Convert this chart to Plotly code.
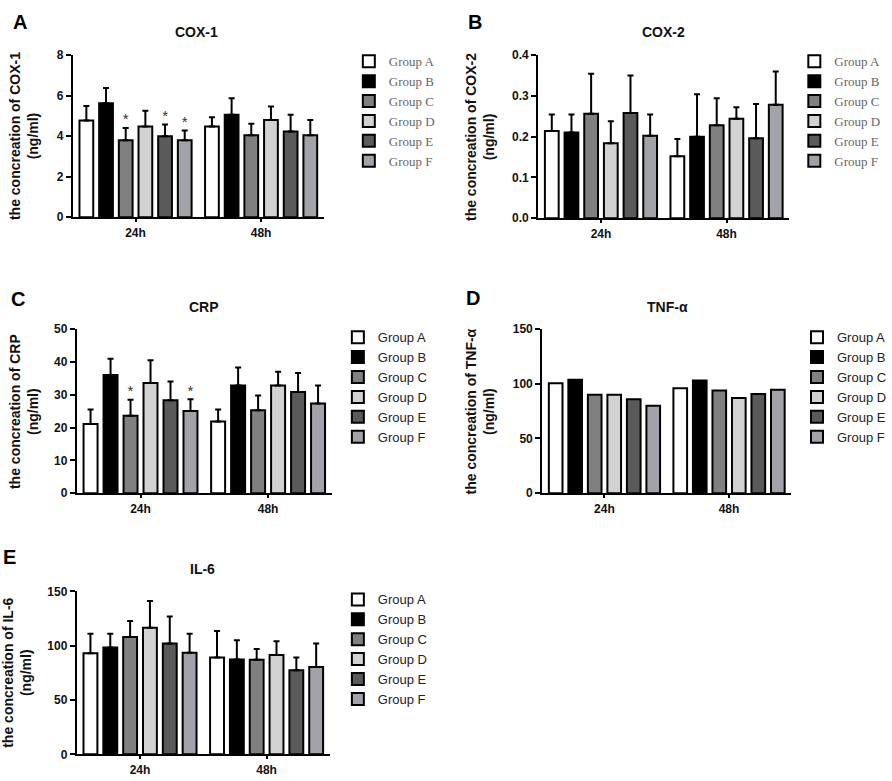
import plotly.graph_objects as go

W, H = 892, 781

groups = ["Group A", "Group B", "Group C", "Group D", "Group E", "Group F"]
times = ["24h", "48h"]
fill_colors = ["#ffffff", "#000000", "#808080", "#d2d2d2", "#5a5a5a", "#a2a2aa"]

# mean values per group, [24h, 48h]
cox1_mean = [[4.77, 4.48], [5.62, 5.06], [3.80, 4.04], [4.48, 4.80], [3.99, 4.23], [3.80, 4.04]]
cox1_err = [[0.72, 0.45], [0.76, 0.81], [0.60, 0.57], [0.77, 0.66], [0.58, 0.83], [0.48, 0.76]]
cox1_star = [["", ""], ["", ""], ["*", ""], ["", ""], ["*", ""], ["*", ""]]

cox2_mean = [[0.214, 0.152], [0.210, 0.200], [0.256, 0.228], [0.184, 0.244], [0.258, 0.196], [0.202, 0.278]]
cox2_err = [[0.040, 0.042], [0.044, 0.104], [0.098, 0.066], [0.054, 0.028], [0.092, 0.084], [0.052, 0.082]]

crp_mean = [[21.1, 21.8], [36.0, 32.8], [23.6, 25.3], [33.6, 32.8], [28.3, 30.8], [25.0, 27.3]]
crp_err = [[4.4, 3.7], [5.0, 5.5], [4.9, 4.5], [6.9, 4.2], [5.7, 5.8], [3.6, 5.5]]
crp_star = [["", ""], ["", ""], ["*", ""], ["", ""], ["", ""], ["*", ""]]

tnf_mean = [[100.5, 96.0], [103.8, 102.9], [90.0, 93.9], [90.0, 87.0], [85.8, 90.6], [79.8, 94.5]]

il6_mean = [[93.0, 89.1], [98.4, 87.3], [108.0, 87.0], [116.4, 91.5], [102.0, 77.4], [93.6, 80.4]]
il6_err = [[18.0, 24.3], [12.6, 17.7], [14.7, 9.9], [24.6, 12.6], [24.9, 11.7], [17.4, 21.6]]


def px_x(p):
    return p / W


def px_y(p):
    return 1 - p / H


# layout numbers are pixel positions in the 892x781 picture
panels = [
    dict(letter="A", title="COX-1", mean=cox1_mean, err=cox1_err, star=cox1_star,
         yr=[0, 8], dtick=2, fmt="", xd=(73, 325), yd=(49, 214), lx=350, ly=40, serif=True,
         ltx=20, lty=15, ttx=197, tty=25, ytx=24),
    dict(letter="B", title="COX-2", mean=cox2_mean, err=cox2_err, star=None,
         yr=[0, 0.4], dtick=0.1, fmt=".1f", xd=(540, 792), yd=(49, 215), lx=797, ly=40, serif=True,
         ltx=477, lty=15, ttx=666, tty=25, ytx=481),
    dict(letter="C", title="CRP", mean=crp_mean, err=crp_err, star=crp_star,
         yr=[0, 50], dtick=10, fmt="", xd=(77, 333), yd=(328, 495), lx=339, ly=321, serif=False,
         ltx=18, lty=297, ttx=205, tty=305, ytx=24),
    dict(letter="D", title="TNF-α", mean=tnf_mean, err=None, star=None,
         yr=[0, 150], dtick=50, fmt="", xd=(544, 794), yd=(328, 495), lx=800, ly=321, serif=False,
         ltx=475, lty=296, ttx=670, tty=305, ytx=482),
    dict(letter="E", title="IL-6", mean=il6_mean, err=il6_err, star=None,
         yr=[0, 150], dtick=50, fmt="", xd=(77, 331), yd=(595, 761), lx=339, ly=588, serif=False,
         ltx=10, lty=560, ttx=203, tty=572, ytx=17),
]

fig = go.Figure()
annotations = []
layout = {}
bold_font = dict(family="Arial, Liberation Sans", size=12, color="#111", weight="bold")

for k, p in enumerate(panels):
    n = k + 1
    xa = "x" if n == 1 else f"x{n}"
    ya = "y" if n == 1 else f"y{n}"
    lg = "legend" if n == 1 else f"legend{n}"

    for i, g in enumerate(groups):
        err = None
        if p["err"] is not None:
            err = dict(type="data", array=p["err"][i], arrayminus=[0, 0], symmetric=False,
                       color="#000", thickness=2, width=3)
        fig.add_trace(go.Bar(
            x=times, y=p["mean"][i], name=g, xaxis=xa, yaxis=ya, legend=lg,
            offsetgroup=g, marker=dict(color=fill_colors[i], line=dict(color="#000", width=2)),
            error_y=err, hoverinfo="skip",
        ))

    # significance stars sit on top of the error bars
    if p["star"] is not None:
        for i, g in enumerate(groups):
            tops = [m + e for m, e in zip(p["mean"][i], p["err"][i])]
            fig.add_trace(go.Scatter(
                x=times, y=tops, mode="text", text=p["star"][i], textposition="top center",
                textfont=dict(family="Arial, Liberation Sans", size=15, color="#333"),
                offsetgroup=g, xaxis=xa, yaxis=ya, showlegend=False, hoverinfo="skip",
            ))

    layout[f"xaxis{n}"] = dict(
        domain=[px_x(p["xd"][0]), px_x(p["xd"][1])], anchor=ya,
        showline=True, linecolor="#000", linewidth=2, ticks="outside", ticklen=3,
        tickwidth=2, tickcolor="#000", tickfont=bold_font, showgrid=False, zeroline=False,
        fixedrange=True,
    )
    layout[f"yaxis{n}"] = dict(
        domain=[px_y(p["yd"][1]), px_y(p["yd"][0])], anchor=xa, range=p["yr"], dtick=p["dtick"],
        tickformat=p["fmt"], showline=True, linecolor="#000", linewidth=2, ticks="outside",
        ticklen=5, tickwidth=2, tickcolor="#000", tickfont=bold_font, showgrid=False,
        zeroline=False, fixedrange=True,
    )
    if p["serif"]:
        lfont = dict(family="Liberation Serif, DejaVu Serif", size=13, color="#666")
    else:
        lfont = dict(family="Arial, Liberation Sans", size=13, color="#222")
    layout[lg] = dict(
        x=px_x(p["lx"]), y=px_y(p["ly"]), xanchor="left", yanchor="top",
        font=lfont, bgcolor="rgba(0,0,0,0)", tracegroupgap=0, itemclick=False,
    )

    annotations.append(dict(
        text=p["letter"], x=px_x(p["ltx"]), y=px_y(p["lty"]), xref="paper", yref="paper",
        xanchor="center", yanchor="middle", showarrow=False,
        font=dict(family="Arial, Liberation Sans", size=20, color="#000", weight="bold"),
    ))
    annotations.append(dict(
        text=p["title"], x=px_x(p["ttx"]), y=px_y(p["tty"]), xref="paper", yref="paper",
        xanchor="center", yanchor="middle", showarrow=False,
        font=dict(family="Arial, Liberation Sans", size=14, color="#111", weight="bold"),
    ))
    mid = (p["yd"][0] + p["yd"][1]) / 2
    annotations.append(dict(
        text=f"the concreation of {p['title']}<br>(ng/ml)", x=px_x(p["ytx"]), y=px_y(mid),
        xref="paper", yref="paper", xanchor="center", yanchor="middle",
        showarrow=False, textangle=-90,
        font=dict(family="Arial, Liberation Sans", size=14, color="#111", weight="bold"),
    ))

fig.update_layout(
    width=W, height=H, margin=dict(l=0, r=0, t=0, b=0),
    paper_bgcolor="#fff", plot_bgcolor="#fff",
    barmode="group", bargap=0.06, bargroupgap=0.3, scattermode="group",
    annotations=annotations, **layout,
)

fig.write_html("out.html", config={"displayModeBar": False},
               post_script="document.body.style.margin='0';")
